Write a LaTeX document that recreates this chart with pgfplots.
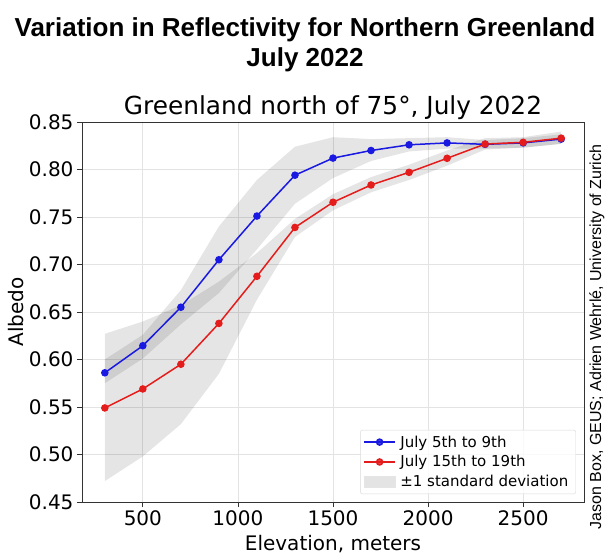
\documentclass[border=0pt]{standalone}
\usepackage{pgfplots}
\pgfplotsset{compat=1.18}
\usepackage{pgfplotstable}
\usepgfplotslibrary{fillbetween}
\usepackage{fontspec}
\setmainfont{DejaVu Sans}
\newfontfamily\arialfont{Liberation Sans}

\definecolor{blueC}{RGB}{25,25,225}
\definecolor{redC}{RGB}{228,28,28}

\pgfplotstableread{
x y lo hi
300 0.586 0.575 0.600
500 0.6145 0.601 0.626
700 0.655 0.637 0.673
900 0.705 0.670 0.740
1100 0.751 0.716 0.789
1300 0.794 0.764 0.824
1500 0.812 0.791 0.834
1700 0.820 0.809 0.832
1900 0.826 0.819 0.833
2100 0.828 0.822 0.834
2300 0.8265 0.822 0.831
2500 0.828 0.823 0.833
2700 0.832 0.827 0.837
}\early

\pgfplotstableread{
x y lo hi
300 0.549 0.472 0.627
500 0.569 0.498 0.640
700 0.595 0.532 0.657
900 0.638 0.585 0.682
1100 0.6876 0.663 0.712
1300 0.739 0.729 0.748
1500 0.7655 0.757 0.774
1700 0.7837 0.776 0.792
1900 0.797 0.789 0.805
2100 0.8118 0.804 0.820
2300 0.8268 0.821 0.833
2500 0.8286 0.823 0.834
2700 0.833 0.827 0.840
}\late

\begin{document}
\begin{tikzpicture}
\begin{axis}[
  at={(0,0)}, anchor=south west,
  scale only axis, width=502bp, height=380bp,
  xmin=180, xmax=2820, ymin=0.45, ymax=0.85,
  xtick={500,1000,1500,2000,2500},
  ytick={0.45,0.50,0.55,0.60,0.65,0.70,0.75,0.80,0.85},
  xtick pos=bottom, ytick pos=left,
  tick align=outside, major tick length=5bp,
  tick style={black!80, line width=0.8bp},
  axis line style={black!80, line width=0.8bp},
  grid=major, major grid style={gray!22, line width=0.8bp},
  /pgf/number format/assume math mode=true,
  tick label style={font=\fontsize{20bp}{24bp}\selectfont},
  xticklabel style={/pgf/number format/1000 sep={}},
  yticklabel style={/pgf/number format/.cd, fixed, fixed zerofill, precision=2},
  xlabel={Elevation, meters},
  ylabel={Albedo},
  label style={font=\fontsize{20bp}{24bp}\selectfont},
  xlabel style={at={(axis description cs:0.5,0)}, anchor=base, yshift=-48.4bp},
  ylabel style={at={(axis description cs:0,0.5)}, anchor=center, rotate=0, yshift=66bp, xshift=0bp},
  legend style={at={(0.984,0.021)}, anchor=south east,
    draw=black!15, rounded corners=2bp, fill=white, fill opacity=0.8, text opacity=1,
    font=\fontsize{15bp}{18bp}\selectfont,
    inner xsep=3bp, inner ysep=2bp,
    nodes={inner xsep=4.5bp, inner ysep=3.5bp},
    cells={anchor=west}},
  legend image code/.code={%
    \draw[mark repeat=2,mark phase=2,#1] plot coordinates {(0bp,0bp) (15.5bp,0bp) (31bp,0bp)};},
]
% std bands
\addplot[name path=bhi, draw=none, forget plot] table[x=x,y=hi] {\early};
\addplot[name path=blo, draw=none, forget plot] table[x=x,y=lo] {\early};
\addplot[fill=black, fill opacity=0.1, draw=none, forget plot] fill between[of=bhi and blo];
\addplot[name path=rhi, draw=none, forget plot] table[x=x,y=hi] {\late};
\addplot[name path=rlo, draw=none, forget plot] table[x=x,y=lo] {\late};
\addplot[fill=black, fill opacity=0.1, draw=none, forget plot] fill between[of=rhi and rlo];
% lines
\addplot[blueC, line width=1.5bp, mark=*, mark size=3bp, mark options={fill=blueC, draw=blueC}] table[x=x,y=y] {\early};
\addlegendentry{July 5th to 9th}
\addplot[redC, line width=1.5bp, mark=*, mark size=3bp, mark options={fill=redC, draw=redC}] table[x=x,y=y] {\late};
\addlegendentry{July 15th to 19th}
\addlegendimage{legend image code/.code={\path[fill=black!13, draw=black!10, line width=0.5bp, sharp corners] (0bp,-5.5bp) rectangle (31bp,5.5bp);}}
\addlegendentry{±1 standard deviation}
\end{axis}
% titles
\node[anchor=base, font=\arialfont\bfseries\fontsize{26bp}{30bp}\selectfont] at (223bp,465.3bp) {Variation in Reflectivity for Northern Greenland};
\node[anchor=base, font=\arialfont\bfseries\fontsize{26bp}{30bp}\selectfont] at (223bp,435.5bp) {July 2022};
\node[anchor=base, font=\fontsize{24.8bp}{29bp}\selectfont] at (251bp,387bp) {Greenland north of 75°, July 2022};
\node[rotate=90, anchor=center, font=\arialfont\fontsize{16bp}{19bp}\selectfont] at (515bp,165bp) {Jason Box, GEUS; Adrien Wehrlé, University of Zurich};
\pgfresetboundingbox
\useasboundingbox (-82bp,-58bp) rectangle (528bp,502bp);
\end{tikzpicture}
\end{document}
